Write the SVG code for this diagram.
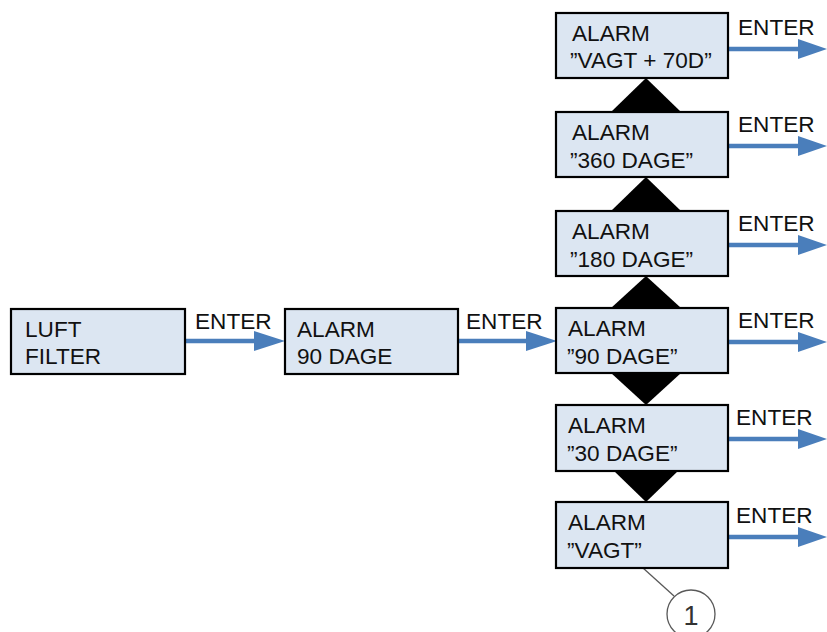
<svg xmlns="http://www.w3.org/2000/svg" width="827" height="632" viewBox="0 0 827 632">
<style>
.box{fill:#DCE6F2;stroke:#000;stroke-width:2.2}
.t{font-family:"Liberation Sans",Arial,sans-serif;font-size:22.6px;fill:#111}
.ln{stroke:#4A7EBB;stroke-width:4.5;fill:none}
.hd{fill:#4A7EBB}
.tri{fill:#000}
</style>
<rect width="827" height="632" fill="#fff"/>
<g id="connectors">
  <polygon class="tri" points="646,78 611,112 681,112"/>
  <polygon class="tri" points="646,177 611,211 681,211"/>
  <polygon class="tri" points="646,276 611,308 681,308"/>
  <polygon class="tri" points="611,373 681,373 646,405"/>
  <polygon class="tri" points="614,471 678,471 646,502"/>
  <line class="ln" x1="185" y1="341" x2="256" y2="341"/>
  <polygon class="hd" points="254,331 285,341 254,351"/>
  <line class="ln" x1="458" y1="341" x2="528" y2="341"/>
  <polygon class="hd" points="526,331 557,341 526,351"/>
  <line class="ln" x1="729" y1="49" x2="800" y2="49"/>
  <polygon class="hd" points="798,39 827,49 798,59"/>
  <line class="ln" x1="729" y1="146" x2="800" y2="146"/>
  <polygon class="hd" points="798,136 827,146 798,156"/>
  <line class="ln" x1="729" y1="245" x2="800" y2="245"/>
  <polygon class="hd" points="798,235 827,245 798,255"/>
  <line class="ln" x1="729" y1="342" x2="800" y2="342"/>
  <polygon class="hd" points="798,332 827,342 798,352"/>
  <line class="ln" x1="729" y1="439" x2="800" y2="439"/>
  <polygon class="hd" points="798,429 827,439 798,449"/>
  <line class="ln" x1="729" y1="537" x2="800" y2="537"/>
  <polygon class="hd" points="798,527 827,537 798,547"/>
  <text class="t" x="195" y="329">ENTER</text>
  <text class="t" x="466" y="329">ENTER</text>
  <text class="t" x="738" y="35">ENTER</text>
  <text class="t" x="738" y="132">ENTER</text>
  <text class="t" x="738" y="231">ENTER</text>
  <text class="t" x="738" y="328">ENTER</text>
  <text class="t" x="736" y="425">ENTER</text>
  <text class="t" x="736" y="523">ENTER</text>
  <line x1="643" y1="568" x2="674" y2="596" stroke="#595959" stroke-width="1.3"/>
</g>
<g id="luft">
  <rect class="box" x="11" y="309" width="174" height="65"/>
  <text class="t" x="25" y="337">LUFT</text>
  <text class="t" x="25" y="364">FILTER</text>
</g>
<g id="alarm90">
  <rect class="box" x="285" y="309" width="173" height="65"/>
  <text class="t" x="297" y="337">ALARM</text>
  <text class="t" x="297" y="364">90 DAGE</text>
</g>
<g id="vagt70">
  <rect class="box" x="556" y="13" width="172" height="65"/>
  <text class="t" x="572" y="41">ALARM</text>
  <text class="t" x="570" y="68">”VAGT + 70D”</text>
</g>
<g id="d360">
  <rect class="box" x="556" y="112" width="172" height="65"/>
  <text class="t" x="572" y="140">ALARM</text>
  <text class="t" x="570" y="168">”360 DAGE”</text>
</g>
<g id="d180">
  <rect class="box" x="556" y="211" width="172" height="65"/>
  <text class="t" x="572" y="239">ALARM</text>
  <text class="t" x="570" y="267">”180 DAGE”</text>
</g>
<g id="d90">
  <rect class="box" x="556" y="308" width="172" height="65"/>
  <text class="t" x="568" y="336">ALARM</text>
  <text class="t" x="567" y="364">”90 DAGE”</text>
</g>
<g id="d30">
  <rect class="box" x="556" y="405" width="172" height="66"/>
  <text class="t" x="568" y="433">ALARM</text>
  <text class="t" x="567" y="461">”30 DAGE”</text>
</g>
<g id="vagt">
  <rect class="box" x="556" y="502" width="172" height="66"/>
  <text class="t" x="568" y="530">ALARM</text>
  <text class="t" x="567" y="558">”VAGT”</text>
</g>
<g id="callout1">
  <circle cx="691" cy="614" r="24" fill="#fff" stroke="#595959" stroke-width="1.3"/>
  <text x="691" y="625" text-anchor="middle" font-family="'Liberation Sans',Arial,sans-serif" font-size="27" fill="#333">1</text>
</g>
</svg>
